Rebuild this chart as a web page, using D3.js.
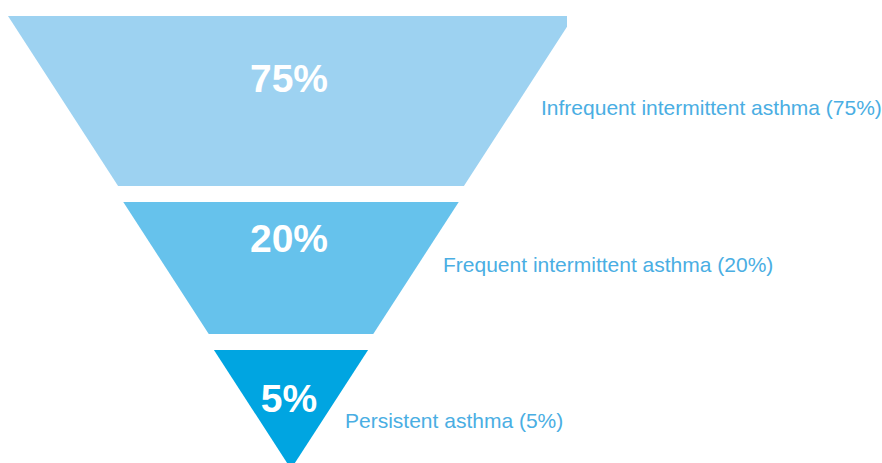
<!DOCTYPE html>
<html lang="en">
  <head>
    <meta charset="UTF-8" />
    <title>Asthma severity funnel</title>
    <style>
      body { margin: 0; background: #fff; }
      svg { display: block; font-family: "Liberation Sans", Arial, sans-serif; }
    </style>
  </head>
  <body>
    <svg></svg>
    <script src="https://cdn.jsdelivr.net/npm/d3@7"></script>
    <script>
      // data
      const categories = [
        "Infrequent intermittent asthma",
        "Frequent intermittent asthma",
        "Persistent asthma",
      ];
      const values = [75, 20, 5];
      const colors = ["#9dd2f1", "#66c2ec", "#00a5e1"];

      const width = 882;
      const height = 463;
      const svg = d3.select("svg").attr("width", width).attr("height", height);

      // funnel geometry: pieces cut from one triangle; each 16px gap eats 8px of it
      const cx = 291;
      const topY = 16;
      const halfTop = 283;
      const cut = 8;
      const stageShare = [170, 132, 119]; // triangle height taken by each stage
      const triH = d3.sum(stageShare) + cut * (stageShare.length - 1);

      // half-width of the triangle at depth t (0 = top edge)
      const half = d3.scaleLinear().domain([0, triH]).range([halfTop, 0]);

      let acc = 0;
      const stages = values.map((v, i) => {
        const t0 = acc;
        const t1 = acc + stageShare[i];
        acc = t1 + cut;
        return {
          name: categories[i],
          value: v,
          color: colors[i],
          t0,
          t1,
          y0: topY + t0 + i * cut,
          y1: topY + t1 + i * cut,
        };
      });

      svg.append("clipPath")
        .attr("id", "clip")
        .append("rect")
        .attr("width", 567)
        .attr("height", height);

      const g = svg.append("g");

      g.append("g")
        .attr("clip-path", "url(#clip)")
        .selectAll("path")
        .data(stages)
        .join("path")
        .attr("fill", (d) => d.color)
        .attr("d", (d) => {
          const w0 = half(d.t0);
          const w1 = half(d.t1);
          return d3.line()([
            [cx - w0, d.y0],
            [cx + w0, d.y0],
            [cx + w1, d.y1],
            [cx - w1, d.y1],
          ]) + "Z";
        });

      // big white percentages
      const valueY = [92, 252, 412];
      g.selectAll("text.pct")
        .data(stages)
        .join("text")
        .attr("class", "pct")
        .attr("x", 289)
        .attr("y", (d, i) => valueY[i])
        .attr("text-anchor", "middle")
        .attr("fill", "#fff")
        .attr("font-weight", "bold")
        .attr("font-size", 39)
        .text((d) => d.value + "%");

      // side labels
      const labelY = [115, 272, 428];
      g.selectAll("text.lbl")
        .data(stages)
        .join("text")
        .attr("class", "lbl")
        .attr("x", (d, i) => 541 - 98 * i)
        .attr("y", (d, i) => labelY[i])
        .attr("fill", "#4aaee3")
        .attr("font-size", 21)
        .text((d) => `${d.name} (${d.value}%)`);
    </script>
  </body>
</html>
